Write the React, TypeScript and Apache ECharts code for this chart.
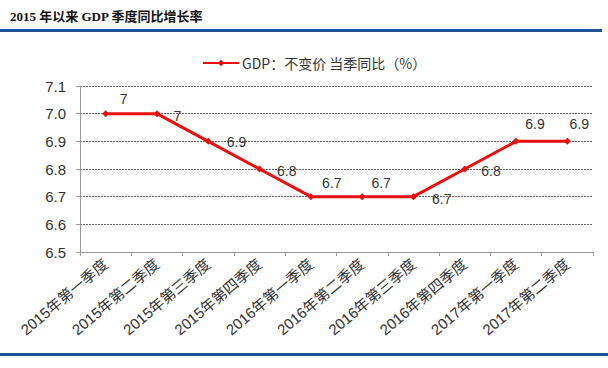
import React, { useEffect, useRef } from "react";
import * as echarts from "echarts";

const categories = [
  "2015年第一季度",
  "2015年第二季度",
  "2015年第三季度",
  "2015年第四季度",
  "2016年第一季度",
  "2016年第二季度",
  "2016年第三季度",
  "2016年第四季度",
  "2017年第一季度",
  "2017年第二季度",
];
const gdpValues = [7.0, 7.0, 6.9, 6.8, 6.7, 6.7, 6.7, 6.8, 6.9, 6.9];
const labelTexts = ["7", "7", "6.9", "6.8", "6.7", "6.7", "6.7", "6.8", "6.9", "6.9"];
const labelPositions = ["top", "right", "right", "right", "top", "top", "right", "right", "top", "top"];
const labelOffsets: number[][] = [
  [18, 1], [8, 2], [10, 1], [9, 2], [21, 2], [19, 2], [10, 2], [8, 2], [19, -2], [12, -2],
];
const seriesName = "GDP：不变价 当季同比（%）";
const titleText = "2015 年以来 GDP 季度同比增长率";

export default function App() {
  const ref = useRef<HTMLDivElement>(null);
  useEffect(() => {
    if (!ref.current) return;
    const chart = echarts.init(ref.current, undefined, { renderer: "svg" });
    chart.setOption({
      animation: false,
      backgroundColor: "#ffffff",
      graphic: [
        {
          type: "text",
          left: 10,
          top: 10,
          style: {
            text: titleText,
            font: "bold 13px 'Liberation Serif', 'Noto Sans CJK SC'",
            fill: "#111",
          },
        },
        { type: "rect", shape: { x: 0, y: 29, width: 602, height: 3 }, style: { fill: "#1f5497" } },
        { type: "rect", shape: { x: 0, y: 353, width: 608, height: 3 }, style: { fill: "#1f5497" } },
      ],
      legend: {
        top: 51,
        left: 197,
        itemWidth: 36,
        itemHeight: 8,
        itemGap: 4,
        textStyle: {
          fontFamily: "'Noto Sans CJK SC'",
          fontSize: 14,
          color: "#333",
          padding: [0, 0, 0, -2],
        },
        data: [seriesName],
      },
      grid: { left: 80, right: 15, top: 86, bottom: 116 },
      xAxis: {
        type: "category",
        data: categories,
        boundaryGap: true,
        axisLine: { lineStyle: { color: "#999", width: 1 } },
        axisTick: { show: true, length: 4, lineStyle: { color: "#999" } },
        axisLabel: {
          rotate: 40,
          interval: 0,
          margin: 10,
          fontSize: 15,
          color: "#333",
          fontFamily: "'Liberation Sans', 'Noto Sans CJK SC'",
        },
      },
      yAxis: {
        type: "value",
        min: 6.5,
        max: 7.1,
        interval: 0.1,
        axisLine: { show: true, lineStyle: { color: "#999" } },
        axisTick: { show: true, length: 4, lineStyle: { color: "#999" } },
        splitLine: { lineStyle: { color: "#666", type: [2, 1], width: 1 } },
        axisLabel: {
          fontSize: 15,
          color: "#333",
          margin: 14,
          fontFamily: "'Liberation Sans', Arial",
          formatter: (v: number) => v.toFixed(1),
        },
      },
      series: [
        {
          name: seriesName,
          type: "line",
          data: gdpValues.map((v, i) => ({
            value: v,
            label: {
              show: true,
              position: labelPositions[i],
              offset: labelOffsets[i],
              formatter: labelTexts[i],
            },
          })),
          lineStyle: { color: "#e8100f", width: 3 },
          itemStyle: { color: "#e8100f" },
          symbol: "diamond",
          symbolSize: 7,
          label: {
            fontSize: 14,
            color: "#333",
            fontFamily: "'Liberation Sans', Arial",
          },
        },
      ],
    });
    return () => chart.dispose();
  }, []);
  return (
    <div
      ref={ref}
      style={{ position: "absolute", left: 0, top: 0, width: 608, height: 368 }}
    />
  );
}
